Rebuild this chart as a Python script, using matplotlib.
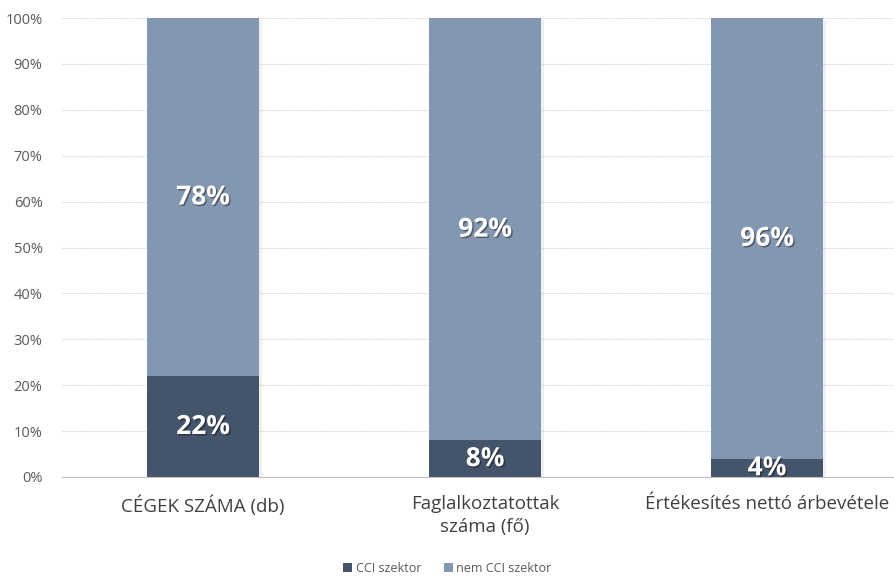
import matplotlib
matplotlib.use('Agg')
import matplotlib.pyplot as plt
import matplotlib.patheffects as pe
import numpy as np

plt.rcParams['font.family'] = ['Open Sans', 'DejaVu Sans']

# data
categories = ['CÉGEK SZÁMA (db)', 'Faglalkoztatottak\nszáma (fő)', 'Értékesítés nettó árbevétele']
cci = [22, 8, 4]
nem_cci = [78, 92, 96]
series_names = ['CCI szektor', 'nem CCI szektor']

dark = '#44546A'
light = '#8497B0'

fig = plt.figure(figsize=(8.95, 5.78), dpi=100)
ax = fig.add_axes([62 / 895, 1 - 477 / 578, 1 - 62 / 895, (477 - 18) / 578])

x = np.arange(len(categories))
w = 0.40
b1 = ax.bar(x, cci, w, color=dark, label=series_names[0], zorder=3)
b2 = ax.bar(x, nem_cci, w, bottom=cci, color=light, label=series_names[1], zorder=3)

# soft shadow behind the whole stacked bar
for i in range(len(categories)):
    ax.bar(x[i] + 0.010, 100, w, bottom=-0.5, color='#000000', alpha=0.06, zorder=2)

txt_fx = [pe.withSimplePatchShadow(offset=(1, -1), shadow_rgbFace='#000000', alpha=0.4)]
for i in range(len(categories)):
    ax.text(x[i], cci[i] / 2, f'{cci[i]}%', ha='center', va='center', color='white',
            fontsize=19, fontweight='bold', zorder=5, path_effects=txt_fx)
    ax.text(x[i], cci[i] + nem_cci[i] / 2, f'{nem_cci[i]}%', ha='center', va='center', color='white',
            fontsize=19, fontweight='bold', zorder=5, path_effects=txt_fx)

ax.set_xlim(-0.5, (895 - 203) / 282)
ax.set_ylim(0, 100)
ax.set_yticks(np.arange(0, 101, 10))
ax.set_yticklabels([f'{v}%' for v in range(0, 101, 10)], color='#595959', fontsize=10.5)
ax.set_xticks(x)
ax.set_xticklabels(categories, color='#404040', fontsize=13.5, linespacing=1.35)
ax.tick_params(axis='both', length=0)
ax.tick_params(axis='x', pad=13)
ax.tick_params(axis='y', pad=14)

ax.grid(axis='y', color='#D0D0D0', linestyle=(0, (1, 1)), linewidth=0.8, zorder=0)
for s in ['top', 'right', 'left']:
    ax.spines[s].set_visible(False)
ax.spines['bottom'].set_color('#BFBFBF')
ax.spines['bottom'].set_zorder(4)

leg = fig.legend(handles=[b1, b2], labels=series_names, loc='center', bbox_to_anchor=(0.5, 1 - 568 / 578),
                 ncol=2, frameon=False, fontsize=9, handlelength=0.7, handleheight=0.7,
                 handletextpad=0.3, columnspacing=1.8)
for t in leg.get_texts():
    t.set_color('#595959')

fig.savefig('out.png', dpi=100)
